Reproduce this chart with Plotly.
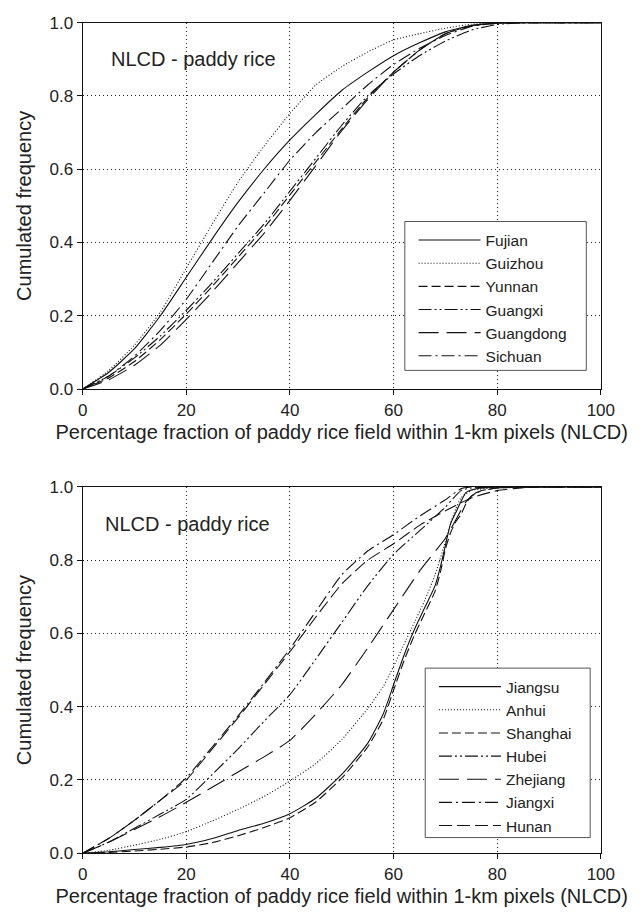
import plotly.graph_objects as go

# ---------------- data ----------------
x_top = [0, 5, 10, 15, 20, 25, 30, 35, 40, 45, 50, 55, 60, 65, 70, 75, 80, 85, 90, 100]
fujian    = [0, 0.045, 0.11, 0.20, 0.305, 0.41, 0.51, 0.60, 0.68, 0.75, 0.815, 0.865, 0.91, 0.945, 0.975, 0.992, 0.999, 1, 1, 1]
guizhou   = [0, 0.05, 0.12, 0.21, 0.33, 0.45, 0.565, 0.663, 0.752, 0.83, 0.88, 0.92, 0.953, 0.97, 0.985, 0.996, 1, 1, 1, 1]
yunnan    = [0, 0.03, 0.075, 0.135, 0.205, 0.28, 0.36, 0.44, 0.53, 0.62, 0.71, 0.795, 0.865, 0.925, 0.97, 0.992, 0.999, 1, 1, 1]
guangxi   = [0, 0.035, 0.085, 0.145, 0.215, 0.29, 0.37, 0.45, 0.54, 0.63, 0.72, 0.80, 0.86, 0.91, 0.95, 0.98, 0.995, 1, 1, 1]
guangdong = [0, 0.025, 0.065, 0.12, 0.19, 0.265, 0.345, 0.425, 0.515, 0.61, 0.705, 0.79, 0.865, 0.925, 0.97, 0.992, 0.999, 1, 1, 1]
sichuan   = [0, 0.035, 0.09, 0.16, 0.245, 0.345, 0.445, 0.535, 0.625, 0.70, 0.765, 0.83, 0.886, 0.93, 0.965, 0.99, 0.998, 1, 1, 1]

x_jiangsu = [0, 5, 10, 15, 20, 25, 30, 35, 40, 45, 50, 55, 58, 60, 62, 64, 66, 68, 69, 70, 71, 72, 73, 74, 76, 80, 90, 100]
jiangsu   = [0, 0.004, 0.01, 0.016, 0.024, 0.04, 0.062, 0.082, 0.108, 0.15, 0.215, 0.30, 0.38, 0.46, 0.54, 0.61, 0.67, 0.73, 0.78, 0.84, 0.90, 0.93, 0.96, 0.985, 0.995, 0.999, 1, 1]
x_shanghai = [0, 5, 10, 15, 20, 25, 30, 35, 40, 45, 50, 55, 58, 60, 62, 64, 66, 68, 69, 70, 71, 72, 73, 74, 75, 77, 80, 90, 100]
shanghai   = [0, 0.002, 0.006, 0.011, 0.017, 0.029, 0.048, 0.07, 0.097, 0.14, 0.205, 0.29, 0.365, 0.445, 0.525, 0.595, 0.655, 0.715, 0.765, 0.83, 0.875, 0.905, 0.925, 0.955, 0.975, 0.99, 0.997, 1, 1]
x_anhui = [0, 5, 10, 15, 20, 25, 30, 35, 40, 45, 50, 55, 58, 60, 62, 64, 66, 68, 70, 71, 72, 73, 75, 80, 90, 100]
anhui   = [0, 0.008, 0.022, 0.038, 0.059, 0.088, 0.12, 0.155, 0.197, 0.245, 0.31, 0.395, 0.455, 0.51, 0.57, 0.63, 0.69, 0.76, 0.85, 0.90, 0.94, 0.97, 0.99, 0.998, 1, 1]
x_zhejiang = [0, 5, 10, 15, 20, 25, 30, 35, 40, 45, 50, 55, 60, 65, 70, 72, 74, 76, 80, 90, 100]
zhejiang   = [0, 0.03, 0.065, 0.10, 0.139, 0.18, 0.222, 0.263, 0.308, 0.38, 0.46, 0.56, 0.665, 0.77, 0.86, 0.91, 0.96, 0.985, 0.997, 1, 1]
x_hubei = [0, 5, 10, 15, 20, 25, 30, 35, 40, 45, 50, 55, 60, 65, 70, 73, 75, 80, 90, 100]
hubei   = [0, 0.03, 0.068, 0.107, 0.147, 0.215, 0.285, 0.36, 0.433, 0.53, 0.63, 0.73, 0.816, 0.88, 0.945, 0.99, 0.997, 1, 1, 1]
x_jiangxi = [0, 5, 10, 15, 20, 25, 30, 35, 40, 45, 50, 55, 60, 65, 70, 73, 75, 80, 90, 100]
jiangxi   = [0, 0.04, 0.09, 0.145, 0.206, 0.29, 0.375, 0.465, 0.558, 0.66, 0.76, 0.825, 0.87, 0.92, 0.965, 0.995, 1, 1, 1, 1]
x_hunan = [0, 5, 10, 15, 20, 25, 30, 35, 40, 45, 50, 55, 60, 65, 70, 75, 80, 85, 90, 100]
hunan   = [0, 0.04, 0.09, 0.145, 0.20, 0.285, 0.37, 0.46, 0.55, 0.645, 0.735, 0.80, 0.845, 0.895, 0.935, 0.97, 0.99, 0.998, 1, 1]

x_ticks = [0, 20, 40, 60, 80, 100]
y_ticks = [0.0, 0.2, 0.4, 0.6, 0.8, 1.0]
x_title = "Percentage fraction of paddy rice field within 1-km pixels (NLCD)"
y_title = "Cumulated frequency"
panel_label = "NLCD - paddy rice"

# ---------------- styles ----------------
SOLID = "solid"
DOT = "1px,2px"
DASH = "9px,4px"
DASHDOTDOT = "13px,3px,2px,3px,2px,3px"
LONGDASH = "20px,8px"
DASHDOT = "13px,4px,2px,4px"
MEDDASH = "13px,5px"

FONT = "Liberation Sans, Arial, sans-serif"

fig = go.Figure()

top_series = [
    ("Fujian", x_top, fujian, SOLID),
    ("Guizhou", x_top, guizhou, DOT),
    ("Yunnan", x_top, yunnan, DASH),
    ("Guangxi", x_top, guangxi, DASHDOTDOT),
    ("Guangdong", x_top, guangdong, LONGDASH),
    ("Sichuan", x_top, sichuan, DASHDOT),
]
bot_series = [
    ("Jiangsu", x_jiangsu, jiangsu, SOLID),
    ("Anhui", x_anhui, anhui, DOT),
    ("Shanghai", x_shanghai, shanghai, DASH),
    ("Hubei", x_hubei, hubei, DASHDOTDOT),
    ("Zhejiang", x_zhejiang, zhejiang, LONGDASH),
    ("Jiangxi", x_jiangxi, jiangxi, DASHDOT),
    ("Hunan", x_hunan, hunan, MEDDASH),
]

for name, xs, ys, dash in top_series:
    fig.add_trace(go.Scatter(x=xs, y=ys, name=name, mode="lines",
                             line=dict(color="#111", width=1.1, dash=dash, shape="spline", smoothing=0.5),
                             xaxis="x", yaxis="y", legend="legend"))
for name, xs, ys, dash in bot_series:
    fig.add_trace(go.Scatter(x=xs, y=ys, name=name, mode="lines",
                             line=dict(color="#111", width=1.1, dash=dash, shape="spline", smoothing=0.5),
                             xaxis="x2", yaxis="y2", legend="legend2"))

W, H = 643, 922
x_dom = [80 / W, 614 / W]
top_dom = [1 - 388 / H, 1 - 14 / H]
bot_dom = [1 - 862 / H, 1 - 488 / H]

def xaxis(anchor):
    return dict(domain=x_dom, anchor=anchor, range=[0, 100], tickvals=x_ticks,
                showline=True, linecolor="#111", linewidth=1.2, mirror=True,
                ticks="outside", ticklen=5, tickcolor="#111",
                showgrid=True, gridcolor="#222", gridwidth=1, griddash="1px,3px",
                zeroline=False,
                tickfont=dict(family=FONT, size=17, color="#222"),
                title=dict(text=x_title, font=dict(family=FONT, size=20, color="#222"), standoff=6))

def yaxis(anchor, dom):
    return dict(domain=dom, anchor=anchor, range=[0, 1], tickvals=y_ticks, tickformat=".1f",
                showline=True, linecolor="#111", linewidth=1.2, mirror=True,
                ticks="outside", ticklen=5, tickcolor="#111",
                showgrid=True, gridcolor="#222", gridwidth=1, griddash="1px,3px",
                zeroline=False,
                tickfont=dict(family=FONT, size=17, color="#222"),
                title=dict(text=y_title, font=dict(family=FONT, size=20, color="#222"), standoff=12))

legend_common = dict(bgcolor="rgba(0,0,0,0)", borderwidth=0,
                     font=dict(family=FONT, size=15.5, color="#222"),
                     itemwidth=62, xanchor="left", yanchor="top", traceorder="normal")

# legend frames (paper pixel boxes)
legend_boxes = [(412, 217, 599, 369), (433, 673, 603, 846)]
shapes = [dict(type="rect", xref="paper", yref="paper", layer="above",
               x0=x0 / W, x1=x1 / W, y0=1 - y1 / H, y1=1 - y0 / H,
               fillcolor="white", line=dict(color="#555", width=1))
          for (x0, y0, x1, y1) in legend_boxes]

fig.update_layout(
    width=W, height=H,
    margin=dict(l=0, r=0, t=0, b=0),
    paper_bgcolor="white", plot_bgcolor="white",
    showlegend=True,
    xaxis=xaxis("y"),
    yaxis=yaxis("x", top_dom),
    xaxis2=xaxis("y2"),
    yaxis2=yaxis("x2", bot_dom),
    legend=dict(x=421 / W, y=1 - 219 / H, **legend_common),
    legend2=dict(x=442 / W, y=1 - 675 / H, **legend_common),
    shapes=shapes,
    annotations=[
        dict(text=panel_label, x=5, y=0.9, xref="x", yref="y", xanchor="left", yanchor="middle",
             showarrow=False, font=dict(family=FONT, size=20, color="#222")),
        dict(text=panel_label, x=4, y=0.9, xref="x2", yref="y2", xanchor="left", yanchor="middle",
             showarrow=False, font=dict(family=FONT, size=20, color="#222")),
    ],
)

fig.write_html("out.html")
